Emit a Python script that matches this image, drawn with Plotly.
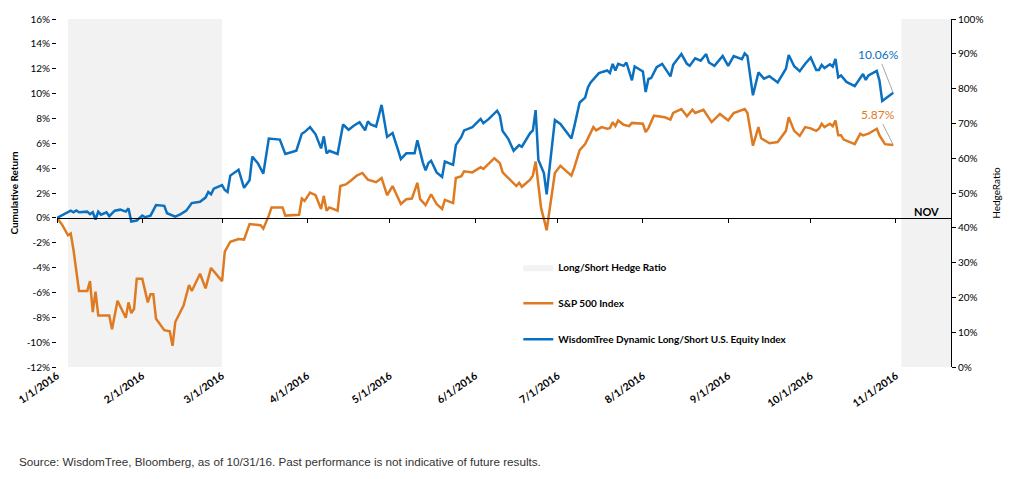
import plotly.graph_objects as go
import pandas as pd

START = pd.Timestamp("2016-01-01")

# Days since 2016-01-01 and cumulative return (%)
wt_day = [0, 5, 6, 7, 8, 11, 12, 13, 14, 15,
          16, 18, 19, 21, 23, 25, 26, 27, 29, 31,
          32, 34, 36, 39, 40, 43, 45, 47, 49, 52,
          54, 55, 56, 57, 60, 61, 62, 63, 66, 68,
          70, 71, 73, 75, 77, 81, 83, 87, 89, 90,
          92, 94, 96, 97, 98, 99, 102, 104, 106, 108,
          110, 112, 113, 114, 116, 118, 120, 122, 124, 125,
          127, 130, 131, 133, 134, 135, 136, 138, 140, 141,
          144, 145, 147, 148, 151, 154, 155, 157, 160, 161,
          162, 164, 166, 168, 169, 172, 173, 174, 175, 177,
          178, 181, 183, 187, 188, 190, 192, 193, 194, 197,
          200, 201, 202, 203, 204, 206, 207, 209, 210, 213,
          214, 215, 216, 218, 220, 223, 224, 227, 229, 230,
          232, 234, 236, 237, 239, 242, 244, 246, 249, 250,
          251, 253, 255, 257, 259, 262, 265, 266, 268, 270,
          272, 274, 276, 277, 278, 279, 281, 282, 283, 284,
          285, 287, 290, 292, 293, 294, 295, 298, 299, 300,
          304]
wt_ret = [0.00, 0.58, 0.45, 0.60, 0.45, 0.50, 0.30, 0.45, -0.13, 0.50,
          0.26, 0.45, 0.13, 0.58, 0.66, 0.50, 0.76, -0.29, -0.21, 0.18,
          0.05, 0.18, 1.03, 0.97, 0.37, 0.10, 0.30, 0.58, 1.19, 1.29,
          1.63, 2.08, 1.90, 2.35, 2.64, 2.24, 2.08, 3.40, 3.87, 2.42,
          3.03, 4.93, 4.40, 3.56, 6.38, 6.30, 5.14, 5.40, 6.77, 6.90,
          7.30, 6.72, 5.59, 6.56, 5.19, 5.40, 5.14, 7.51, 7.09, 7.43,
          7.69, 7.04, 7.77, 7.51, 7.35, 9.09, 6.51, 6.82, 5.45, 4.72,
          5.19, 5.19, 6.25, 4.45, 3.82, 4.40, 4.60, 3.66, 3.29, 4.53,
          4.27, 5.85, 6.51, 7.04, 7.30, 7.96, 7.62, 7.96, 8.62, 8.22,
          6.98, 6.38, 5.40, 5.85, 5.72, 6.82, 7.04, 8.67, 4.66, 3.61,
          1.90, 7.88, 7.56, 6.38, 7.30, 9.28, 9.67, 10.50, 10.90, 11.65,
          11.86, 11.65, 12.39, 11.86, 12.39, 12.23, 12.50, 11.07, 12.18, 11.78,
          10.12, 11.17, 11.25, 12.12, 12.39, 11.38, 12.31, 13.18, 12.39, 12.23,
          12.84, 12.65, 13.18, 12.50, 12.23, 13.02, 12.23, 13.02, 12.76, 13.23,
          13.02, 9.86, 11.70, 11.20, 11.40, 10.90, 12.00, 13.10, 12.20, 11.80,
          12.40, 12.90, 11.90, 11.90, 12.30, 12.05, 12.36, 12.17, 12.78, 11.30,
          11.46, 10.94, 10.60, 11.20, 11.57, 11.10, 11.46, 11.83, 11.04, 9.40,
          10.06]

sp_day = [0, 2, 4, 5, 6, 8, 11, 12, 13, 14,
          15, 19, 20, 22, 25, 26, 27, 28, 29, 31,
          33, 34, 35, 36, 39, 41, 42, 43, 46, 48,
          49, 52, 54, 56, 60, 61, 63, 66, 68, 70,
          74, 75, 77, 78, 82, 83, 88, 89, 90, 92,
          94, 96, 97, 98, 99, 102, 103, 105, 107, 109,
          111, 113, 116, 118, 120, 122, 125, 127, 129, 131,
          132, 134, 136, 138, 140, 141, 144, 145, 147, 148,
          151, 154, 155, 159, 161, 162, 164, 167, 168, 169,
          172, 173, 174, 176, 177, 178, 181, 183, 187, 188,
          190, 192, 195, 196, 198, 200, 201, 202, 203, 204,
          206, 208, 209, 213, 214, 215, 217, 221, 223, 224,
          227, 229, 231, 232, 235, 238, 241, 244, 246, 250,
          251, 253, 255, 256, 259, 262, 265, 266, 268, 270,
          272, 274, 276, 277, 278, 279, 281, 282, 283, 284,
          285, 286, 290, 292, 293, 295, 298, 299, 301, 304]
sp_ret = [0.00, -0.60, -1.40, -1.26, -2.58, -5.88, -5.88, -5.09, -7.59, -5.93,
          -7.85, -7.85, -8.96, -6.67, -8.04, -6.80, -7.67, -7.33, -4.90, -4.90,
          -6.80, -6.14, -6.14, -8.12, -9.04, -9.12, -10.30, -8.38, -7.06, -5.40,
          -5.88, -4.50, -5.67, -4.03, -5.09, -2.71, -1.92, -1.70, -1.75, -0.50,
          -0.60, -0.87, 0.18, 0.84, 0.84, 0.18, 0.24, 1.55, 1.37, 2.03,
          1.82, 0.71, 1.77, 0.58, 0.84, 0.58, 2.56, 2.69, 3.03, 3.40,
          3.61, 3.08, 2.87, 3.21, 1.82, 2.56, 1.11, 1.50, 1.55, 2.82,
          1.50, 1.03, 1.90, 1.11, 0.71, 1.45, 1.19, 3.21, 3.35, 3.74,
          3.66, 4.08, 3.93, 4.80, 4.40, 3.66, 3.21, 2.56, 2.82, 2.50,
          3.08, 3.40, 4.53, 0.76, -0.08, -1.00, 3.61, 4.19, 3.40, 4.00,
          5.45, 5.93, 7.30, 7.04, 7.30, 7.17, 7.22, 7.70, 7.38, 7.83,
          7.49, 7.38, 7.64, 7.57, 6.91, 7.22, 8.22, 8.09, 7.91, 8.44,
          8.75, 8.17, 8.70, 8.44, 8.70, 7.70, 8.36, 7.83, 8.44, 8.75,
          8.44, 5.80, 7.30, 6.40, 6.00, 6.10, 7.00, 8.10, 7.00, 6.60,
          7.30, 7.20, 7.00, 7.17, 7.57, 7.30, 7.57, 7.38, 7.83, 6.64,
          6.64, 6.30, 5.93, 6.77, 6.64, 6.77, 7.17, 6.64, 5.93, 5.87]

# Long/short hedge ratio (%) – step changes
hedge_day = [4, 60, 307, 325]
hedge_ratio = [100, 0, 100, 100]

month_ticks = ["2016-01-01", "2016-02-01", "2016-03-01", "2016-04-01", "2016-05-01",
               "2016-06-01", "2016-07-01", "2016-08-01", "2016-09-01", "2016-10-01",
               "2016-11-01"]
month_labels = ["1/1/2016", "2/1/2016", "3/1/2016", "4/1/2016", "5/1/2016",
                "6/1/2016", "7/1/2016", "8/1/2016", "9/1/2016", "10/1/2016",
                "11/1/2016"]
ret_ticks = [-12, -10, -8, -6, -4, -2, 0, 2, 4, 6, 8, 10, 12, 14, 16]
hedge_ticks = [0, 10, 20, 30, 40, 50, 60, 70, 80, 90, 100]
x_end_day = 325
nov_label_day = 316


def to_dates(days):
    return [START + pd.Timedelta(days=d) for d in days]


BLUE = "#0A70BF"
ORANGE = "#DE7B22"
GRAY_FILL = "#F2F2F2"
FONT = "Lato"

fig = go.Figure()

fig.add_trace(go.Scatter(
    x=to_dates(hedge_day), y=hedge_ratio, name="<b>Long/Short Hedge Ratio</b>",
    mode="lines", line=dict(width=0, shape="hv", color=GRAY_FILL),
    fill="tozeroy", fillcolor=GRAY_FILL, xaxis="x", yaxis="y",
    legendgroup="a", hoverinfo="skip"))

fig.add_trace(go.Scatter(
    x=to_dates(sp_day), y=sp_ret, name="<b>S&P 500 Index</b>", mode="lines",
    line=dict(color=ORANGE, width=2.5), xaxis="x", yaxis="y2", legendgroup="b"))

fig.add_trace(go.Scatter(
    x=to_dates(wt_day), y=wt_ret,
    name="<b>WisdomTree Dynamic Long/Short U.S. Equity Index</b>", mode="lines",
    line=dict(color=BLUE, width=2.5), xaxis="x", yaxis="y2", legendgroup="c"))

# helper trace so the zero-line axis is drawn
fig.add_trace(go.Scatter(
    x=to_dates([0]), y=[0], mode="lines", line=dict(width=0),
    xaxis="x2", yaxis="y2", showlegend=False, hoverinfo="skip"))

x_range = [START, START + pd.Timedelta(days=x_end_day)]
tick_dates = pd.to_datetime(month_ticks)

fig.update_layout(
    width=1012, height=479,
    margin=dict(l=57, r=60, t=12, b=112),
    paper_bgcolor="white", plot_bgcolor="white",
    font=dict(family=FONT, size=10, color="#000000"),
    showlegend=True,
    legend=dict(x=0.516, y=0.328, xanchor="left", yanchor="top",
                bgcolor="rgba(0,0,0,0)", font=dict(family=FONT, size=10, color="#000"),
                traceorder="grouped", tracegroupgap=17, itemwidth=30),
    xaxis=dict(type="date", range=x_range, tickvals=tick_dates, ticktext=[f"<b>{t}</b>" for t in month_labels],
               tickangle=-35, showline=False, ticks="", showgrid=False, zeroline=False,
               tickfont=dict(family=FONT, size=10.5, color="#000")),
    xaxis2=dict(type="date", range=x_range, overlaying="x", anchor="free",
                position=(367 - 215) / 355, side="bottom",
                showline=True, linecolor="#000", linewidth=1.3,
                ticks="outside", ticklen=4, tickcolor="#000", tickwidth=1,
                tickvals=tick_dates, showticklabels=False, showgrid=False, zeroline=False),
    yaxis=dict(range=[0, 100], side="right", anchor="x",
               tickvals=hedge_ticks, ticktext=[f"{v}%" for v in hedge_ticks],
               showline=True, linecolor="#000", linewidth=1,
               ticks="outside", ticklen=4, tickcolor="#000",
               showgrid=False, zeroline=False,
               title=dict(text="HedgeRatio", font=dict(family=FONT, size=10, color="#000"), standoff=10),
               tickfont=dict(family=FONT, size=10, color="#000")),
    yaxis2=dict(range=[-12, 16], side="left", overlaying="y", anchor="x",
                tickvals=ret_ticks, ticktext=[f"{v}%" for v in ret_ticks],
                showline=False, ticks="outside", ticklen=4, tickcolor="#000",
                showgrid=False, zeroline=False,
                title=dict(text="<b>Cumulative Return</b>", font=dict(family=FONT, size=10, color="#000"), standoff=6),
                tickfont=dict(family=FONT, size=10, color="#000")),
)

last_date = to_dates([wt_day[-1]])[0]
fig.add_annotation(x=last_date, y=wt_ret[-1], xref="x", yref="y2",
                   text=f"{wt_ret[-1]:.2f}%", showarrow=True, arrowhead=0,
                   arrowcolor="#A6A6A6", arrowwidth=1, ax=-15, ay=-38,
                   font=dict(family=FONT, size=12, color=BLUE))
fig.add_annotation(x=last_date, y=sp_ret[-1], xref="x", yref="y2",
                   text=f"{sp_ret[-1]:.2f}%", showarrow=True, arrowhead=0,
                   arrowcolor="#A6A6A6", arrowwidth=1, ax=-15, ay=-30,
                   font=dict(family=FONT, size=12, color=ORANGE))
fig.add_annotation(x=to_dates([nov_label_day])[0], y=0, xref="x", yref="y2",
                   text="<b>NOV</b>", showarrow=False, yanchor="bottom", yshift=-2,
                   font=dict(family=FONT, size=11, color="#000"))
fig.add_annotation(x=(17 - 57) / 895, y=(367 - 463) / 355, xref="paper", yref="paper",
                   xanchor="left", yanchor="middle", showarrow=False,
                   text="Source: WisdomTree, Bloomberg, as of 10/31/16. Past performance is not indicative of future results.",
                   font=dict(family="Liberation Sans", size=11.7, color="#333333"))

fig.write_html("out.html")
